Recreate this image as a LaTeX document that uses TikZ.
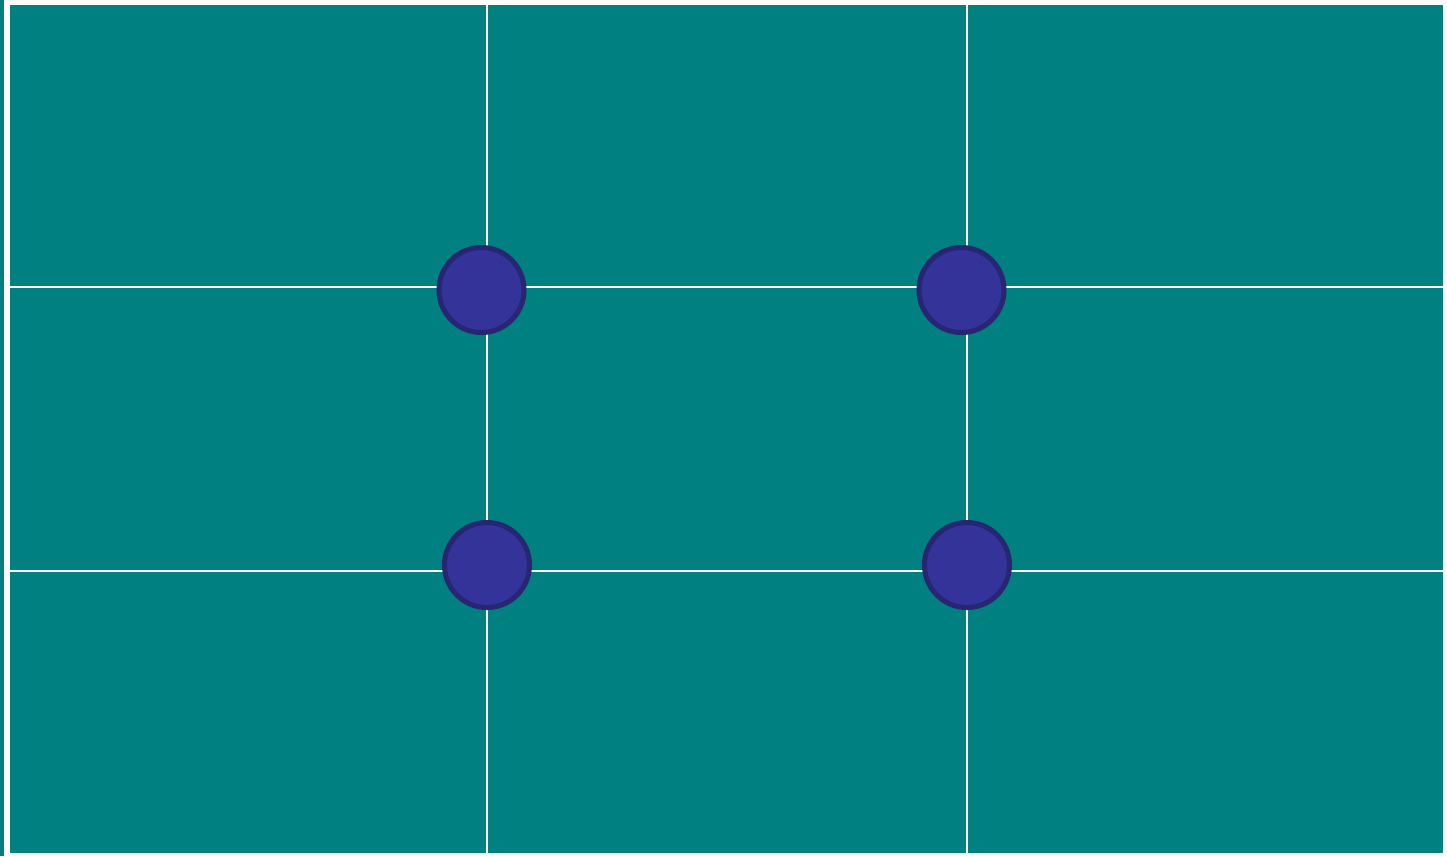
\documentclass[tikz,border=0pt]{standalone}
\definecolor{tealbg}{RGB}{0,128,128}
\definecolor{dotfill}{RGB}{51,51,153}
\definecolor{dotline}{RGB}{40,37,115}
\begin{document}
\begin{tikzpicture}[x=0.01cm,y=-0.01cm,
  gridline/.style={white,line width=0.027cm},
  dot/.style={circle,fill=dotfill,draw=dotline,line width=0.05cm,minimum size=0.85cm,inner sep=0pt}]
\useasboundingbox (0,0) rectangle (1447,856);
\fill[white] (0,0) rectangle (1447,856);
\fill[tealbg] (0,0) rectangle (4,856);
\fill[tealbg] (10,5) rectangle (1443,853);
\coordinate (v1t) at (487,5); \coordinate (v1b) at (487,853);
\coordinate (v2t) at (967,5); \coordinate (v2b) at (967,853);
\coordinate (h1l) at (10,287); \coordinate (h1r) at (1443,287);
\coordinate (h2l) at (10,571); \coordinate (h2r) at (1443,571);
\draw[gridline] (v1t) -- (v1b);
\draw[gridline] (v2t) -- (v2b);
\draw[gridline] (h1l) -- (h1r);
\draw[gridline] (h2l) -- (h2r);
\node[dot] (d1) at (481.5,290) {};
\node[dot] (d2) at (961.5,290) {};
\node[dot] (d3) at (487,565) {};
\node[dot] (d4) at (967,565) {};
\end{tikzpicture}
\end{document}
